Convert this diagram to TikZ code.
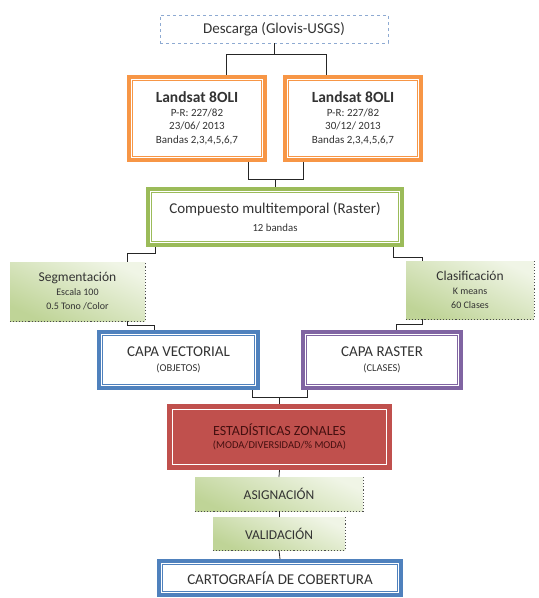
\documentclass[tikz,border=0pt]{standalone}
\usepackage{fontspec}
\setmainfont{Carlito}
\definecolor{naranja}{HTML}{F79646}
\definecolor{verde}{HTML}{9BBB59}
\definecolor{azul}{HTML}{4F81BD}
\definecolor{azulclaro}{HTML}{8EAAD2}
\definecolor{morado}{HTML}{8064A2}
\definecolor{rojo}{HTML}{C0504D}
\definecolor{verdeclaro}{HTML}{F0F5E6}
\definecolor{verdeosc}{HTML}{BFD497}
\definecolor{texto}{HTML}{333333}
\definecolor{textorojo}{HTML}{451010}
\begin{document}
\begin{tikzpicture}[x=1pt, y=-1pt,
    caja/.style={draw=#1, line width=4pt, fill=white, inner sep=0pt, align=center, text=texto},
    proceso/.style={top color=verdeclaro, bottom color=verdeosc, shading angle=-25, inner sep=0pt, align=center, text=texto},
    linea/.style={draw=black!85, line width=0.8pt}
]
    \useasboundingbox (0,0) rectangle (539,598);

    % Descarga
    \node[draw=azulclaro, dashed, line width=0.8pt, minimum width=228pt, minimum height=28pt, inner sep=0pt,
        text=texto, font=\fontsize{15}{17}\selectfont] (desc) at (274,29) {Descarga (Glovis-USGS)};

    % Imagenes Landsat
    \node[caja=naranja, minimum width=136pt, minimum height=83pt, font=\fontsize{11}{13.5}\selectfont] (land1) at (197,118.5)
        {{\fontsize{15.5}{16}\selectfont\bfseries Landsat 8OLI}\\P-R: 227/82\\23/06/ 2013\\Bandas 2,3,4,5,6,7};
    \node[caja=naranja, minimum width=136pt, minimum height=83pt, font=\fontsize{11}{13.5}\selectfont] (land2) at (353,118.5)
        {{\fontsize{15.5}{16}\selectfont\bfseries Landsat 8OLI}\\P-R: 227/82\\30/12/ 2013\\Bandas 2,3,4,5,6,7};

    % Compuesto
    \node[caja=verde, minimum width=254pt, minimum height=56pt, font=\fontsize{10.8}{18}\selectfont] (comp) at (275,217)
        {{\fontsize{15}{16}\selectfont Compuesto multitemporal (Raster)}\\12 bandas};

    % Procesos
    \node[proceso, minimum width=135pt, minimum height=59pt, font=\fontsize{10}{14}\selectfont] (seg) at (77.5,291.5)
        {{\fontsize{13.5}{15}\selectfont Segmentación}\\Escala 100\\0.5 Tono /Color};
    \node[proceso, minimum width=128pt, minimum height=58pt, font=\fontsize{10}{14}\selectfont] (clas) at (470,290)
        {{\fontsize{13.5}{15}\selectfont Clasificación}\\K means\\60 Clases};

    % Capas
    \node[caja=azul, minimum width=159pt, minimum height=56pt, font=\fontsize{10.5}{15}\selectfont] (vect) at (178.5,360)
        {{\fontsize{15}{16}\selectfont CAPA VECTORIAL}\\(OBJETOS)};
    \node[caja=morado, minimum width=158pt, minimum height=56pt, font=\fontsize{10.5}{15}\selectfont] (rast) at (382,360)
        {{\fontsize{15}{16}\selectfont CAPA RASTER}\\(CLASES)};

    % Estadisticas
    \node[draw=rojo, fill=rojo, line width=1pt, minimum width=224pt, minimum height=65pt, inner sep=0pt, align=center,
        text=textorojo, font=\fontsize{10.5}{13}\selectfont] (est) at (279.5,437)
        {{\fontsize{14}{14}\selectfont ESTADÍSTICAS ZONALES}\\(MODA/DIVERSIDAD/\% MODA)};

    \node[proceso, minimum width=168pt, minimum height=34pt, font=\fontsize{13.5}{15}\selectfont] (asig) at (279,494) {ASIGNACIÓN};
    \node[proceso, minimum width=132pt, minimum height=33pt, font=\fontsize{13.5}{15}\selectfont] (valid) at (279,533.5) {VALIDACIÓN};

    \node[caja=azul, minimum width=242pt, minimum height=34pt, font=\fontsize{15}{17}\selectfont] (cart) at (280,578)
        {CARTOGRAFÍA DE COBERTURA};

    % Lineas interiores
    \foreach \n/\c in {land1/naranja, land2/naranja, comp/verde, vect/azul, rast/morado, cart/azul, est/white}
        \draw[\c, line width=1.1pt] ([xshift=5.5pt,yshift=5.5pt]\n.south west) rectangle ([xshift=-5.5pt,yshift=-5.5pt]\n.north east);

    % Sombra punteada
    \foreach \n in {seg, clas, asig, valid}
        \draw[dotted, line width=1.1pt, black!70] (\n.south west) -- (\n.south east) -- (\n.north east);

    % Conectores
    \draw[linea] (desc.south) -- ++(0,11) -| ([xshift=29pt]land1.north);
    \draw[linea] (desc.south) -- ++(0,11) -| ([xshift=-27pt]land2.north);
    \draw[linea] ([xshift=51pt]land1.south) -- ++(0,17) -| (comp.north);
    \draw[linea] ([xshift=-50pt]land2.south) -- ++(0,17) -| (comp.north);
    \draw[linea] ([xshift=-120pt]comp.south) -- ++(0,6) -| ([xshift=49.5pt]seg.north);
    \draw[linea] ([xshift=49.5pt]seg.south) -- ++(0,4) -| ([xshift=-24.5pt]vect.north);
    \draw[linea] ([xshift=118pt]comp.south) -- ++(0,10) -| ([xshift=-47.5pt]clas.north);
    \draw[linea] ([xshift=-47.5pt]clas.south) -- ++(0,5) -| ([xshift=14pt]rast.north);
    \draw[linea] ([xshift=73.5pt]vect.south) -- ++(0,7) coordinate (junta) -| ([xshift=-75pt]rast.south);
    \draw[linea] (est.north) -- (est.north |- junta);
    \draw[linea] (est.south) -- (asig.north);
    \draw[linea] (asig.south) -- (valid.north);
    \draw[linea] (valid.south) -- (cart.north);
\end{tikzpicture}
\end{document}
